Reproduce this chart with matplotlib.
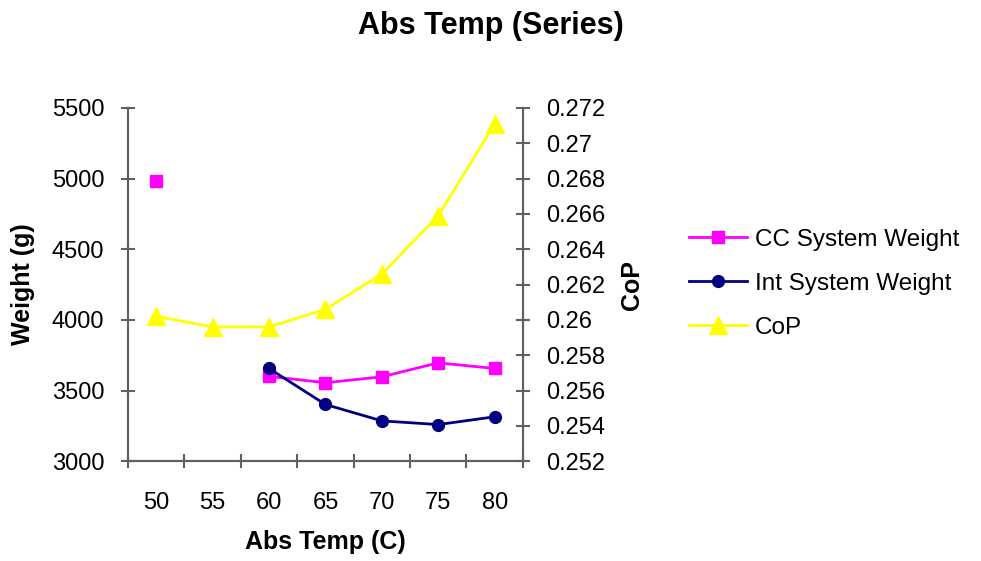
import numpy as np
import matplotlib
matplotlib.use("Agg")
import matplotlib.pyplot as plt

plt.rcParams['font.family'] = ['Liberation Sans', 'DejaVu Sans']

# data
temps = ['50', '55', '60', '65', '70', '75', '80']
cc_weight = [4985, np.nan, 3600, 3555, 3597, 3696, 3656]
int_weight = [np.nan, np.nan, 3656, 3401, 3285, 3259, 3314]
cop = [0.2602, 0.2596, 0.2596, 0.2606, 0.2626, 0.2659, 0.2711]

axis_col = '#606060'

fig = plt.figure(figsize=(9.81, 5.61), dpi=100)
ax = fig.add_axes([0.1305, 0.178, 0.4025, 0.6295])
ax2 = ax.twinx()

x = np.arange(len(temps))

l1, = ax.plot(x, cc_weight, color='#FF00FF', marker='s', markersize=8, lw=2,
              label='CC System Weight')
l2, = ax.plot(x, int_weight, color='#000080', marker='o', markersize=8.5, lw=2,
              label='Int System Weight')
l3, = ax2.plot(x, cop, color='#FFFF00', marker='^', markersize=13, lw=2,
               label='CoP')

ax.set_xlim(-0.5, len(temps) - 0.5)
ax.set_ylim(3000, 5500)
ax.set_yticks(np.arange(3000, 5501, 500))
ax2.set_ylim(0.252, 0.272)
ax2.set_yticks(np.arange(0.252, 0.2721, 0.002))
ax2.set_yticklabels(['0.252', '0.254', '0.256', '0.258', '0.26', '0.262',
                     '0.264', '0.266', '0.268', '0.27', '0.272'])

# category labels in the middle, tick marks between categories
ax.set_xticks(x)
ax.set_xticklabels(temps)
ax.set_xticks(np.arange(-0.5, len(temps), 1), minor=True)
ax.tick_params(axis='x', which='major', length=0, pad=22, labelsize=17)
ax.tick_params(axis='x', which='minor', length=10, direction='inout',
               color=axis_col, width=1.5)
ax.tick_params(axis='y', length=10, direction='inout', color=axis_col,
               width=1.5, labelsize=17, pad=12)
ax2.tick_params(axis='y', length=10, direction='inout', color=axis_col,
                width=1.5, labelsize=17, pad=12)

for a in (ax, ax2):
    a.spines['top'].set_visible(False)
    for s in ('left', 'right', 'bottom'):
        a.spines[s].set_color(axis_col)
        a.spines[s].set_linewidth(1.5)

ax.set_xlabel('Abs Temp (C)', fontsize=18, fontweight='bold', labelpad=12)
ax.set_ylabel('Weight (g)', fontsize=18, fontweight='bold', labelpad=12)
ax2.set_ylabel('CoP', fontsize=18, fontweight='bold', labelpad=10)

fig.suptitle('Abs Temp (Series)', fontsize=22, fontweight='bold', y=0.98)

fig.legend(handles=[l1, l2, l3], loc='center left',
           bbox_to_anchor=(0.68, 0.494), frameon=False, fontsize=17.5,
           handlelength=2.4, labelspacing=0.9, handletextpad=0.3)

fig.savefig('out.png', dpi=100)
